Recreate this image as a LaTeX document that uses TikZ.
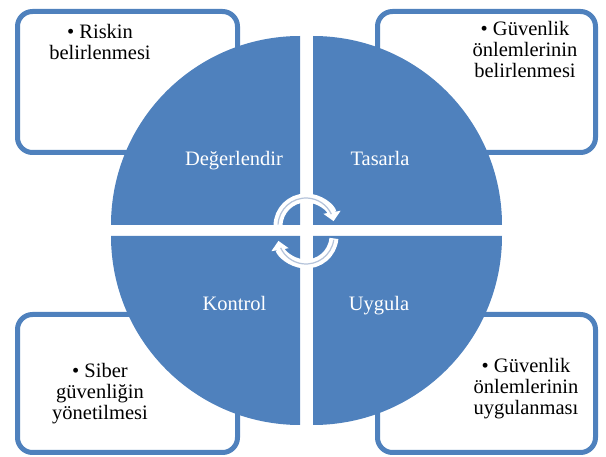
\documentclass[tikz,border=0pt]{standalone}
\usepackage{fontspec}
\setmainfont{Liberation Serif}
\usetikzlibrary{arrows.meta}
\definecolor{quadblue}{HTML}{4F81BD}
\definecolor{ringgray}{HTML}{B4C3DA}

\begin{document}
\begin{tikzpicture}[x=1pt, y=-1pt,
  box/.style={draw=quadblue, line width=5pt, fill=white, rounded corners=15pt,
    minimum width=220pt, minimum height=141pt, inner sep=0pt},
  note/.style={align=center, anchor=north, inner sep=0pt, font=\fontsize{20.5}{21}\selectfont},
  phase/.style={anchor=base, inner sep=0pt, text=white, font=\fontsize{20.5}{21}\selectfont},
  turn/.style={draw=white, line width=9pt, -{Triangle[width=17pt,length=9pt]}}]
\useasboundingbox (0,0) rectangle (606,457);

\node[box] (riskbox) at (127.5,82) {};
\node[box, minimum width=218pt] (designbox) at (486.5,82) {};
\node[box, minimum height=138pt] (controlbox) at (127.5,383.5) {};
\node[box, minimum width=218pt, minimum height=138pt] (applybox) at (486.5,383.5) {};

\fill[quadblue] (300,225) -- (111,225) arc[start angle=180, end angle=270, radius=189] -- cycle;
\fill[quadblue] (313,225) -- (313,36) arc[start angle=270, end angle=360, radius=189] -- cycle;
\fill[quadblue] (300,236) -- (111,236) arc[start angle=180, end angle=90, radius=189] -- cycle;
\fill[quadblue] (313,236) -- (502,236) arc[start angle=0, end angle=90, radius=189] -- cycle;

\node[phase] (assess) at (234,166) {Değerlendir};
\node[phase] (design) at (380,166) {Tasarla};
\node[phase] (control) at (234.5,311) {Kontrol};
\node[phase] (apply) at (379,311) {Uygula};

\node[note] (risknote) at (100,24) {• Riskin\\belirlenmesi};
\node[note] (designnote) at (525,21) {• Güvenlik\\önlemlerinin\\belirlenmesi};
\node[note] (controlnote) at (100,363) {• Siber\\güvenliğin\\yönetilmesi};
\node[note] (applynote) at (526,358) {• Güvenlik\\önlemlerinin\\uygulanması};

\draw[turn] (306,226) ++(180:28) arc[start angle=180, end angle=350, radius=28];
\draw[ringgray, line width=1.2pt] (306,226) ++(183:28) arc[start angle=183, end angle=335, radius=28];
\draw[turn] (306,236) ++(5:28) arc[start angle=5, end angle=170, radius=28];
\draw[ringgray, line width=1.2pt] (306,236) ++(8:28) arc[start angle=8, end angle=155, radius=28];
\end{tikzpicture}
\end{document}
